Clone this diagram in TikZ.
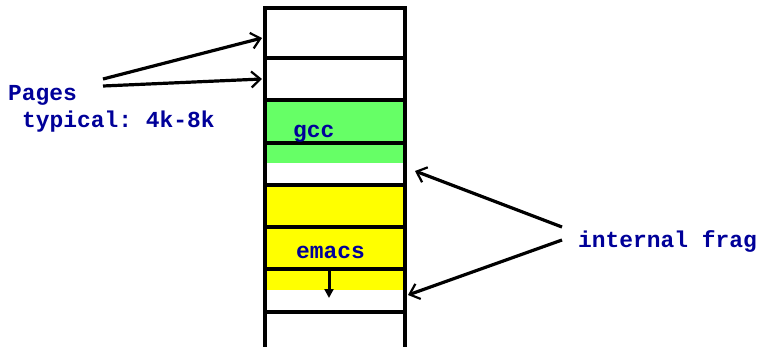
\documentclass[tikz,border=0pt]{standalone}
\usepackage{fontspec}
\setmonofont{Liberation Mono}
\usetikzlibrary{arrows.meta}
\definecolor{txtblue}{RGB}{0,0,153}
\definecolor{gccgreen}{RGB}{102,255,102}
\definecolor{emyellow}{RGB}{255,255,0}
\begin{document}
\begin{tikzpicture}[x=1pt,y=-1pt,
  lbl/.style={font=\ttfamily\bfseries\fontsize{22.9}{26}\selectfont,text=txtblue,inner sep=0pt,anchor=base west},
  ptr/.style={line width=3.2pt,-{Straight Barb[length=9pt,width=16pt,line width=2.2pt]}},
  grid/.style={line width=3.2pt}]
\useasboundingbox (0,0) rectangle (761,346);
% fills
\fill[gccgreen] (265,100) rectangle (405,163);
\fill[emyellow] (265,185) rectangle (405,290);
% column
\draw[grid] (265,350) -- (265,8) -- (405,8) -- (405,350);
\foreach \yy in {58,100,143,185,227,269,312}
  \draw[grid] (265,\yy) -- (405,\yy);
% texts
\node[lbl] (pages) at (8,100) {Pages};
\node[lbl] (typical) at (22,127) {typical: 4k-8k};
\node[lbl] (gcc) at (293,137) {gcc};
\node[lbl] (emacs) at (296,258) {emacs};
\node[lbl] (frag) at (578,247) {internal frag};
% arrow endpoints
\coordinate (p1s) at (103,79);
\coordinate (p1e) at (262,38);
\coordinate (p2s) at (103,86);
\coordinate (p2e) at (262,79);
\coordinate (f1s) at (562,227);
\coordinate (f1e) at (415,171);
\coordinate (f2s) at (562,240);
\coordinate (f2e) at (408,295);
\coordinate (gs) at (329,269);
\coordinate (ge) at (329,298);
\draw[ptr] (p1s) -- (p1e);
\draw[ptr] (p2s) -- (p2e);
\draw[ptr] (f1s) -- (f1e);
\draw[ptr] (f2s) -- (f2e);
\draw[line width=3pt,-{Triangle[length=9pt,width=9pt]}] (gs) -- (ge);
\end{tikzpicture}
\end{document}
